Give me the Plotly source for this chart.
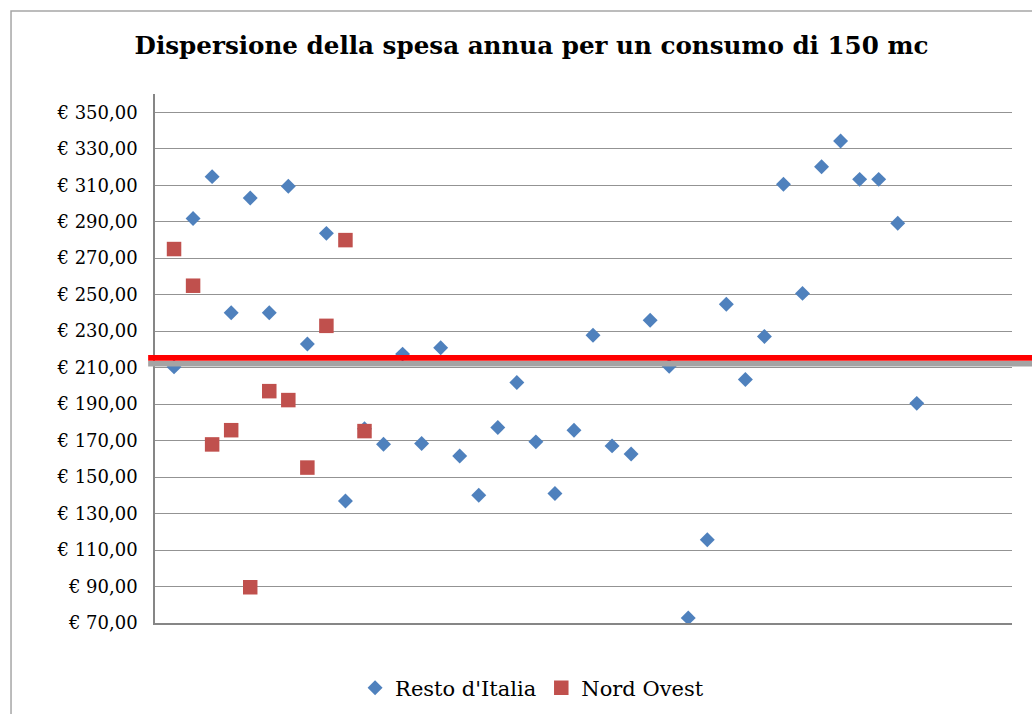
import plotly.graph_objects as go

TITLE = "Dispersione della spesa annua per un consumo di 150 mc"

# Resto d'Italia (x = 1..40)
resto_x = list(range(1, 41))
resto_y = [210.4, 291.8, 314.7, 240.1, 303.0, 240.1, 309.4, 223.0, 283.6, 136.9,
           176.5, 168.0, 217.4, 168.4, 220.9, 161.6, 140.0, 177.2, 201.9, 169.3,
           141.0, 175.7, 227.8, 167.1, 162.7, 236.0, 210.8, 72.8, 115.6, 244.7,
           203.5, 227.1, 310.5, 250.7, 320.1, 334.2, 313.2, 313.2, 289.1, 190.4]

# Nord Ovest (x = 1..11)
nord_x = list(range(1, 12))
nord_y = [275.0, 254.9, 167.9, 175.7, 89.6, 197.1, 192.2, 155.2, 232.9, 279.9, 175.2]

# Reference line (average)
media = 215.4

y_ticks = list(range(70, 351, 20))
y_ticktext = ["€ %d,00" % v for v in y_ticks]
y_range = [70, 360]
x_range = [0, 45]

FONT = "DejaVu Serif"

fig = go.Figure()
fig.add_trace(go.Scatter(
    x=resto_x, y=resto_y, mode="markers", name="Resto d'Italia",
    marker=dict(symbol="diamond", size=11.5, color="#4F81BD", line=dict(width=0)),
))
fig.add_trace(go.Scatter(
    x=nord_x, y=nord_y, mode="markers", name="Nord Ovest",
    marker=dict(symbol="square", size=14.5, color="#C0504D", line=dict(width=0)),
))

shapes = [
    # outer chart border
    dict(type="rect", xref="paper", yref="paper", x0=-0.168, x1=1.06, y0=-0.2, y1=1.157,
         line=dict(color="#a6a6a6", width=1.5), fillcolor="rgba(0,0,0,0)", layer="below"),
    # shadow of average line
    dict(type="rect", xref="paper", yref="y", ysizemode="pixel", yanchor=media,
         x0=-0.008, x1=1.06, y0=-3.3, y1=-8.8,
         line=dict(width=0), fillcolor="#a4a4a4", layer="above"),
    # average line
    dict(type="rect", xref="paper", yref="y", ysizemode="pixel", yanchor=media,
         x0=-0.008, x1=1.06, y0=2.7, y1=-2.9,
         line=dict(width=0), fillcolor="#FF0000", layer="above"),
]

fig.update_layout(
    width=1032, height=714,
    margin=dict(l=155, r=20, t=94, b=91.3, autoexpand=False),
    paper_bgcolor="white", plot_bgcolor="white",
    font=dict(family=FONT, color="black", size=18),
    title=dict(text="<b>" + TITLE + "</b>", x=0.515, xanchor="center",
               y=1 - 45 / 714, yanchor="middle", yref="container",
               font=dict(family=FONT, size=24.6, color="black")),
    showlegend=True,
    legend=dict(orientation="h", x=0.44, xanchor="center",
                y=1 - 688 / 714, yref="container", yanchor="middle",
                font=dict(family=FONT, size=21, color="black"), bgcolor="rgba(0,0,0,0)"),
    shapes=shapes,
    xaxis=dict(range=x_range, showgrid=False, zeroline=False, showticklabels=False,
               ticks="", showline=True, linecolor="#868686", linewidth=1.5),
    yaxis=dict(range=y_range, tickmode="array", tickvals=y_ticks, ticktext=y_ticktext,
               showgrid=True, gridcolor="#939393", gridwidth=1, zeroline=False,
               showline=True, linecolor="#868686", linewidth=1.5, ticks="",
               ticklabelstandoff=12, tickfont=dict(family=FONT, size=18, color="black")),
    hovermode=False,
)

fig.write_html("out.html", config={"displayModeBar": False},
               post_script="document.body.style.margin='0';document.body.style.overflow='hidden';")
